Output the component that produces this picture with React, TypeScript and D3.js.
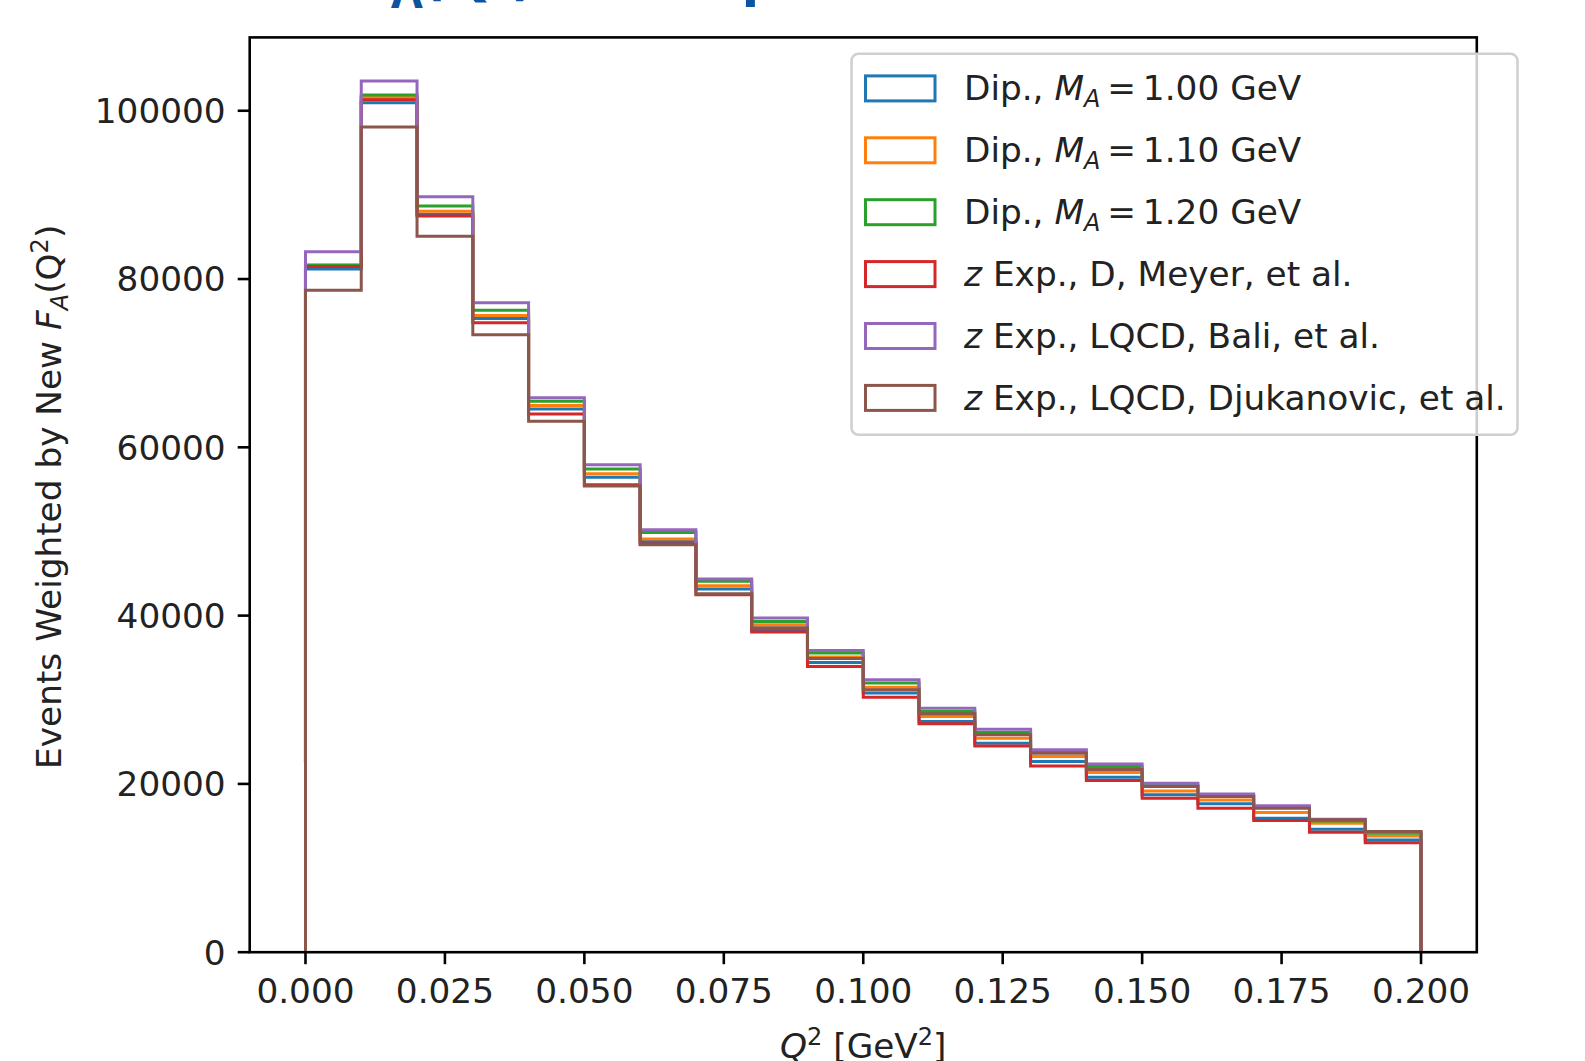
import React from "react";
import * as d3 from "d3";

// bin edges of the Q^2 histogram (GeV^2)
const binEdges = [0, 0.01, 0.02, 0.03, 0.04, 0.05, 0.06, 0.07, 0.08, 0.09, 0.1,
  0.11, 0.12, 0.13, 0.14, 0.15, 0.16, 0.17, 0.18, 0.19, 0.2];

const dipole100 = [81200, 100960, 87700, 75300, 64560, 56430, 48800, 43160, 38300, 34430,
  30790, 27410, 24840, 22660, 20800, 18700, 17630, 15920, 14620, 13340];
const dipole110 = [81700, 101560, 88070, 75670, 64960, 56870, 49100, 43550, 38910, 35070,
  31500, 28010, 25440, 23250, 21350, 19170, 18100, 16590, 15330, 13820];
const dipole120 = [81600, 101870, 88670, 76300, 65470, 57430, 49890, 44070, 39310, 35550,
  31980, 28600, 26100, 23800, 22060, 19850, 18600, 17200, 15600, 14150];
const zExpMeyer = [81500, 101320, 87480, 74800, 63970, 55560, 48500, 42480, 38040, 33950,
  30310, 27140, 24520, 22140, 20400, 18300, 17110, 15640, 14260, 13020];
const zExpBali = [83240, 103540, 89780, 77180, 65880, 57940, 50210, 44350, 39710, 35860,
  32370, 29000, 26510, 24050, 22380, 20090, 18810, 17390, 15800, 14260];
const zExpDjuk = [78680, 98060, 85100, 73370, 63090, 55400, 48430, 42600, 38550, 34900,
  31180, 28330, 25830, 23650, 21700, 19680, 18490, 17110, 15750, 14330];

const seriesValues = [dipole100, dipole110, dipole120, zExpMeyer, zExpBali, zExpDjuk];
const seriesColors = ["#1f77b4", "#ff7f0e", "#2ca02c", "#d62728", "#9467bd", "#8c564b"];
// legend labels: [prefix, math symbol, subscript, rest]
const seriesLabels = [
  ["Dip., ", "M", "A", "\u2009=\u20091.00 GeV"],
  ["Dip., ", "M", "A", "\u2009=\u20091.10 GeV"],
  ["Dip., ", "M", "A", "\u2009=\u20091.20 GeV"],
  ["", "z", "", " Exp., D, Meyer, et al."],
  ["", "z", "", " Exp., LQCD, Bali, et al."],
  ["", "z", "", " Exp., LQCD, Djukanovic, et al."],
];

const xTicks = [0, 0.025, 0.05, 0.075, 0.1, 0.125, 0.15, 0.175, 0.2];
const yTicks = [0, 20000, 40000, 60000, 80000, 100000];

const W = 1585;
const H = 1061;
const plot = { left: 249.7, right: 1476.8, top: 37.4, bottom: 952.2 };
const font = "'DejaVu Sans', sans-serif";
const fs = 34.3;

const App = () => {
  const xScale = d3.scaleLinear().domain([-0.01, 0.21]).range([plot.left, plot.right]);
  const yMax = d3.max(seriesValues.flat()) * 1.05;
  const yScale = d3.scaleLinear().domain([0, yMax]).range([plot.bottom, plot.top]);

  const stepLine = d3.line<[number, number]>()
    .x(d => xScale(d[0]))
    .y(d => yScale(d[1]))
    .curve(d3.curveStepAfter);

  const stepPath = (vals: number[]) => {
    const pts: [number, number][] = [[binEdges[0], 0]];
    vals.forEach((v, i) => pts.push([binEdges[i], v]));
    pts.push([binEdges[binEdges.length - 1], 0]);
    return stepLine(pts);
  };

  const leg = { x: 851.5, y: 53.8, w: 666, h: 381, row: 61.9 };

  return (
    <svg width={W} height={H} style={{ position: "absolute", left: 0, top: 0, background: "#fff" }}
      fontFamily={font}>
      <rect width={W} height={H} fill="#fff" />

      {/* slide title, mostly cut off at the top */}
      <text y={-8} fill="#0d54a0" fontWeight="bold" fontSize={60} fontFamily="'Open Sans', sans-serif">
        <tspan x={358}>F</tspan>
        <tspan fontSize={46} dy={16}>A</tspan>
        <tspan dy={-16}>(Q</tspan>
        <tspan fontSize={40} dy={-22}>2</tspan>
        <tspan dy={22}>)</tspan>
        <tspan x={607}>Comparison</tspan>
      </text>

      {/* histograms */}
      <g clipPath="url(#clip)">
        {seriesValues.map((vals, i) => (
          <path key={i} d={stepPath(vals) || ""} fill="none" stroke={seriesColors[i]}
            strokeWidth={3} strokeLinejoin="miter" />
        ))}
      </g>
      <defs>
        <clipPath id="clip">
          <rect x={plot.left} y={plot.top} width={plot.right - plot.left} height={plot.bottom - plot.top} />
        </clipPath>
      </defs>

      {/* spines */}
      <rect x={plot.left} y={plot.top} width={plot.right - plot.left} height={plot.bottom - plot.top}
        fill="none" stroke="#000" strokeWidth={2.6} />

      {/* x axis */}
      {xTicks.map(t => (
        <g key={t} transform={`translate(${xScale(t)},${plot.bottom})`}>
          <line y2={12} stroke="#000" strokeWidth={2.6} />
          <text y={51} textAnchor="middle" fontSize={fs} fill="#222">{t.toFixed(3)}</text>
        </g>
      ))}
      <text x={(plot.left + plot.right) / 2} y={1058} textAnchor="middle" fontSize={fs} fill="#222">
        <tspan fontStyle="italic">Q</tspan>
        <tspan fontSize={24} dy={-13}>2</tspan>
        <tspan dy={13}> [GeV</tspan>
        <tspan fontSize={24} dy={-13}>2</tspan>
        <tspan dy={13}>]</tspan>
      </text>

      {/* y axis */}
      {yTicks.map(t => (
        <g key={t} transform={`translate(${plot.left},${yScale(t)})`}>
          <line x2={-12} stroke="#000" strokeWidth={2.6} />
          <text x={-24} dy="0.36em" textAnchor="end" fontSize={fs} fill="#222">{t}</text>
        </g>
      ))}
      <text transform={`translate(61,${(plot.top + plot.bottom) / 2 + 2}) rotate(-90)`} textAnchor="middle"
        fontSize={fs} fill="#222">
        <tspan>Events Weighted by New </tspan>
        <tspan fontStyle="italic">F</tspan>
        <tspan fontStyle="italic" fontSize={24} dy={7}>A</tspan>
        <tspan dy={-7}>(Q</tspan>
        <tspan fontSize={24} dy={-13}>2</tspan>
        <tspan dy={13}>)</tspan>
      </text>

      {/* legend */}
      <rect x={leg.x} y={leg.y} width={leg.w} height={leg.h} rx={7} fill="#fff" fillOpacity={0.8}
        stroke="#d0d0d0" strokeWidth={2.6} />
      {seriesLabels.map((lab, i) => {
        const cy = 88.4 + i * leg.row;
        return (
          <g key={i}>
            <rect x={865.5} y={cy - 12.5} width={69.5} height={25} fill="none" stroke={seriesColors[i]}
              strokeWidth={3} />
            <text x={964} y={cy + 12} fontSize={fs} fill="#222">
              {lab[0] && <tspan>{lab[0]}</tspan>}
              <tspan fontStyle="italic">{lab[1]}</tspan>
              {lab[2] && <tspan fontStyle="italic" fontSize={24} dy={7}>{lab[2]}</tspan>}
              <tspan dy={lab[2] ? -7 : 0}>{lab[3]}</tspan>
            </text>
          </g>
        );
      })}
    </svg>
  );
};

export default App;
